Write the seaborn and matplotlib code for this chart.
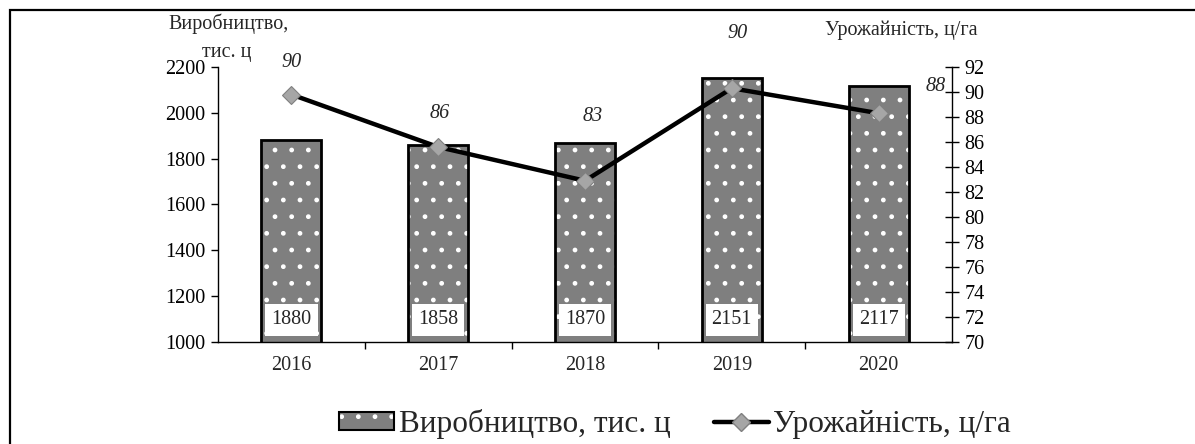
import matplotlib
matplotlib.use("Agg")
import matplotlib.pyplot as plt
import seaborn as sns
import pandas as pd
from matplotlib.patches import Rectangle, Patch
from matplotlib.lines import Line2D

# data
years = ["2016", "2017", "2018", "2019", "2020"]
production = [1880, 1858, 1870, 2151, 2117]
yield_vals = [89.8, 85.6, 82.9, 90.3, 88.3]
yield_labels = ["90", "86", "83", "90", "88"]

df = pd.DataFrame({"year": years, "production": production, "yield": yield_vals})

sns.set_theme(style="white")
plt.rcParams["font.family"] = ["Liberation Serif", "DejaVu Serif"]

FS = 14.5

fig = plt.figure(figsize=(11.95, 4.44), dpi=100)
ax = fig.add_axes([218 / 1195, 1 - 342 / 444, 734 / 1195, 275 / 444])

# bars: grey with white dots, then black outline on top
sns.barplot(data=df, x="year", y="production", color="#7f7f7f", width=0.41,
            saturation=1, ax=ax, zorder=2)
for p in ax.patches:
    p.set_hatch(".")
    p.set_edgecolor("white")
    p.set_linewidth(0)
sns.barplot(data=df, x="year", y="production", width=0.41, fill=False,
            edgecolor="black", linewidth=2, ax=ax, zorder=3)

ax.set_ylim(1000, 2200)
ax.set_xlim(-0.5, 4.5)
ax.set_yticks(range(1000, 2201, 200))
ax.set_xlabel("")
ax.set_ylabel("")

# value labels in white boxes near the bottom of each bar
for i, v in enumerate(production):
    ax.text(i, 1096, str(v), ha="center", va="center", fontsize=FS, zorder=4,
            bbox=dict(boxstyle="square,pad=0.3", fc="white", ec="none"))

for s in ["top", "right"]:
    ax.spines[s].set_visible(False)
for s in ["left", "bottom"]:
    ax.spines[s].set_color("black")
    ax.spines[s].set_linewidth(1)

ax.tick_params(axis="y", direction="out", length=5, width=1, colors="black",
               labelsize=FS, left=True, pad=4)
ax.tick_params(axis="x", which="major", length=0, labelsize=FS, pad=10)
ax.set_xticks([0.5, 1.5, 2.5, 3.5], minor=True)
ax.tick_params(axis="x", which="minor", direction="out", length=5, width=1,
               bottom=True, color="black")

# yield line on the right axis
ax2 = ax.twinx()
sns.lineplot(x=list(range(len(years))), y=yield_vals, ax=ax2, color="black",
             linewidth=3.2, marker="D", markersize=9, markerfacecolor="#a6a6a6",
             markeredgecolor="#808080", markeredgewidth=0.8, zorder=5)
ax2.set_ylim(70, 92)
ax2.set_yticks(range(70, 93, 2))
ax2.set_xlim(-0.5, 4.5)
for s in ["top", "left", "bottom"]:
    ax2.spines[s].set_visible(False)
ax2.spines["right"].set_color("black")
ax2.spines["right"].set_linewidth(1)
ax2.tick_params(axis="y", direction="inout", length=10, width=1, colors="black",
                labelsize=FS, right=True, pad=4)

offsets = [(0, 32), (2, 34), (8, 64), (6, 55), (57, 27)]
for i, (v, lab) in enumerate(zip(yield_vals, yield_labels)):
    ax2.annotate(lab, (i, v), xytext=offsets[i], textcoords="offset pixels",
                 ha="center", va="center", fontsize=FS, style="italic")

# axis titles
fig.text(229 / 1195, 1 - 24 / 444, "Виробництво,", ha="center", va="center", fontsize=FS)
fig.text(227 / 1195, 1 - 52 / 444, "тис. ц", ha="center", va="center", fontsize=FS)
fig.text(901 / 1195, 1 - 30 / 444, "Урожайність, ц/га", ha="center", va="center", fontsize=FS)

# legend: bar handle = dotted grey patch overlaid with black outline
bar_handle = (Patch(facecolor="#7f7f7f", edgecolor="white", hatch=".", linewidth=0),
              Patch(fill=False, edgecolor="black", linewidth=1.5))
line_handle = Line2D([0], [0], color="black", linewidth=3.2, marker="D", markersize=9,
                     markerfacecolor="#a6a6a6", markeredgecolor="#808080")
leg = fig.legend([bar_handle, line_handle], ["Виробництво, тис. ц", "Урожайність, ц/га"],
                 loc="center", bbox_to_anchor=(0.565, 0.045), ncol=2,
                 frameon=False, fontsize=22.5, handlelength=1.75, handleheight=0.5,
                 handletextpad=0.15, columnspacing=1.4, borderpad=0.1)

# partial frame around the figure (top and left edges visible)
fig.patches.append(Rectangle((0.008, -0.2), 1.2, 1.177,
                             transform=fig.transFigure, fill=False,
                             edgecolor="black", linewidth=1.6))

fig.savefig("out.png", dpi=100)
